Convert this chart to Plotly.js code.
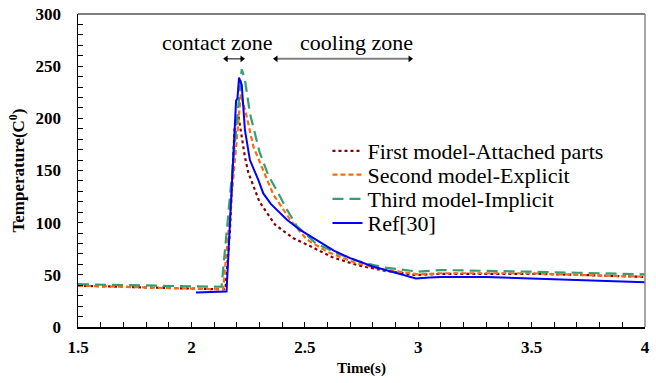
<!DOCTYPE html>
<html>
<head>
<meta charset="utf-8">
<script src="https://cdn.plot.ly/plotly-3.0.1.min.js"></script>
<style>html,body{margin:0;padding:0;background:#fff;}#chart{width:656px;height:383px;}</style>
</head>
<body>
<div id="chart"></div>
<script>
// ---- data ----
const seriesNames = ["First model-Attached parts", "Second model-Explicit", "Third model-Implicit", "Ref[30]"];

const timeFirst = [1.5, 1.7, 1.9, 2.0, 2.15, 2.17, 2.19, 2.207, 2.236, 2.251, 2.30, 2.369, 2.45, 2.523, 2.62, 2.73, 2.85, 2.99, 3.1, 3.3, 3.5, 3.7, 3.9, 4.0];
const tempFirst = [39.6, 38.5, 37.5, 37, 36, 93, 189, 203, 163, 148, 120, 98, 85, 77.6, 67, 59.4, 54, 49.8, 51, 51, 51, 50, 49, 48];

const timeSecond = [1.5, 1.7, 1.9, 2.0, 2.14, 2.218, 2.244, 2.273, 2.317, 2.361, 2.435, 2.508, 2.6, 2.73, 2.85, 3.0, 3.1, 3.3, 3.5, 3.7, 3.9, 4.0];
const tempSecond = [39.6, 38.5, 37.5, 37, 36, 223, 201.6, 173, 150.5, 127, 103, 84, 72, 61, 55, 50.5, 51.5, 51.5, 51.5, 50, 49, 48.2];

const timeThird = [1.5, 1.7, 1.9, 2.0, 2.133, 2.155, 2.222, 2.236, 2.258, 2.30, 2.34, 2.376, 2.42, 2.464, 2.55, 2.65, 2.743, 2.85, 2.95, 3.0, 3.1, 3.3, 3.5, 3.7, 3.9, 4.0];
const tempThird = [41, 40, 39.5, 39, 38.6, 90, 247, 237, 205, 168, 145, 131, 113, 97, 80, 70, 62.6, 57, 54, 53, 54.6, 54, 53, 52, 51, 50.5];

const timeRef = [2.02, 2.155, 2.197, 2.203, 2.21, 2.222, 2.236, 2.258, 2.295, 2.317, 2.35, 2.39, 2.42, 2.479, 2.56, 2.63, 2.70, 2.80, 2.90, 2.99, 3.05, 3.1, 3.3, 3.5, 3.7, 3.9, 4.0];
const tempRef = [33, 34, 217, 219, 239, 232, 189, 160, 141, 128, 118, 109, 103, 93, 82, 73, 66, 58, 52, 46.5, 47.5, 48, 48, 46.7, 45, 44, 43];

const xTickVals = [1.5, 2, 2.5, 3, 3.5, 4];
const xTickText = ["1.5", "2", "2.5", "3", "3.5", "4"];
const yTickVals = [0, 50, 100, 150, 200, 250, 300];

const zoneLabels = ["contact zone", "cooling zone"];
const contactZone = [2.153, 2.223];
const coolingZone = [2.373, 2.964];
const zoneArrowY = 257;
const zoneTextY = 273;
const contactLabelX = 2.117;
const coolingLabelX = 2.726;

const serif = "Liberation Serif";
const legendRowsY = [0.562, 0.486, 0.409, 0.332];
const legendIds = ["legend", "legend2", "legend3", "legend4"];

const traces = [
  {x: timeFirst, y: tempFirst, name: seriesNames[0], mode: "lines", legend: legendIds[0],
   line: {color: "#8b0000", width: 2.2, dash: "dot"}},
  {x: timeSecond, y: tempSecond, name: seriesNames[1], mode: "lines", legend: legendIds[1],
   line: {color: "#ff6a10", width: 2.2, dash: "5px,3px"}},
  {x: timeThird, y: tempThird, name: seriesNames[2], mode: "lines", legend: legendIds[2],
   line: {color: "#35a06e", width: 2.2, dash: "11px,6px"}},
  {x: timeRef, y: tempRef, name: seriesNames[3], mode: "lines", legend: legendIds[3],
   line: {color: "#0000ff", width: 2}},
  // zone arrows
  {x: contactZone, y: [zoneArrowY, zoneArrowY], mode: "lines+markers", showlegend: false, hoverinfo: "skip",
   line: {color: "#000", width: 1},
   marker: {symbol: ["triangle-left", "triangle-right"], size: 6, color: "#000"}},
  {x: coolingZone, y: [zoneArrowY, zoneArrowY], mode: "lines+markers", showlegend: false, hoverinfo: "skip",
   line: {color: "#808080", width: 2},
   marker: {symbol: ["triangle-left", "triangle-right"], size: 6, color: "#000"}}
];

function legendBox(yPos) {
  return {x: 0.44, y: yPos, xanchor: "left", yanchor: "middle",
    font: {family: serif, size: 22, color: "#000"}, bgcolor: "rgba(0,0,0,0)", borderwidth: 0};
}

const layout = {
  width: 656, height: 383,
  margin: {l: 78, r: 11, t: 14, b: 56},
  paper_bgcolor: "#fff", plot_bgcolor: "#fff",
  showlegend: true,
  legend: legendBox(legendRowsY[0]),
  legend2: legendBox(legendRowsY[1]),
  legend3: legendBox(legendRowsY[2]),
  legend4: legendBox(legendRowsY[3]),
  xaxis: {range: [1.5, 4], tickvals: xTickVals, ticktext: xTickText,
    ticks: "inside", ticklen: 5, tickcolor: "#000", tickwidth: 1,
    showline: true, linecolor: "#000", linewidth: 1.5, showgrid: false, zeroline: false,
    minor: {ticks: "inside", dtick: 0.1, ticklen: 5, tickcolor: "#000", showgrid: false},
    tickfont: {family: serif, size: 17, color: "#000", weight: "bold"},
    ticklabelstandoff: 4,
    title: {text: "Time(s)", font: {family: serif, size: 15, color: "#000", weight: "bold"}, standoff: 6}},
  yaxis: {range: [0, 300], tickvals: yTickVals,
    ticks: "inside", ticklen: 5, tickcolor: "#000", tickwidth: 1,
    showline: true, linecolor: "#000", linewidth: 1.5, showgrid: false, zeroline: false,
    minor: {ticks: "inside", dtick: 10, ticklen: 5, tickcolor: "#000", showgrid: false},
    tickfont: {family: serif, size: 17, color: "#000", weight: "bold"},
    ticklabelstandoff: 12,
    title: {text: "Temperature(C<sup>0</sup>)", font: {family: serif, size: 17, color: "#000", weight: "bold"}, standoff: 6}},
  shapes: [
    {type: "line", xref: "paper", yref: "paper", x0: 0, x1: 1, y0: 1, y1: 1, line: {color: "#555", width: 1.5}},
    {type: "line", xref: "paper", yref: "paper", x0: 1, x1: 1, y0: 0, y1: 1, line: {color: "#888", width: 1.5}}
  ],
  annotations: [
    {x: contactLabelX, y: zoneTextY, xref: "x", yref: "y", text: zoneLabels[0],
     showarrow: false, font: {family: serif, size: 22, color: "#000"}},
    {x: coolingLabelX, y: zoneTextY, xref: "x", yref: "y", text: zoneLabels[1],
     showarrow: false, font: {family: serif, size: 22, color: "#000"}}
  ]
};

Plotly.newPlot("chart", traces, layout, {staticPlot: true, displayModeBar: false});
</script>
</body>
</html>
